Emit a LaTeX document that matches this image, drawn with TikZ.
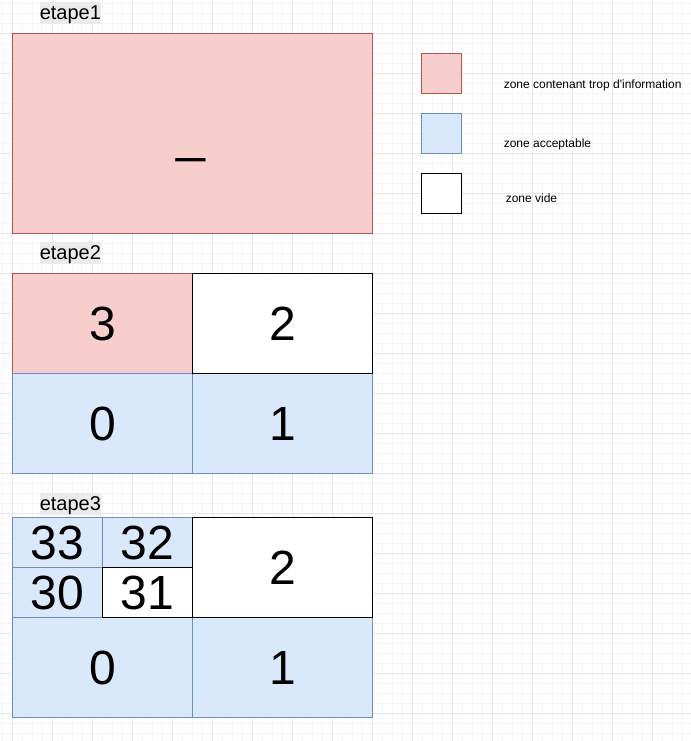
\documentclass[tikz,border=0pt]{standalone}
\usepackage{fontspec}
\setmainfont{Liberation Sans}
\usetikzlibrary{positioning}

\definecolor{redfill}{HTML}{F8CECC}
\definecolor{redline}{HTML}{B85450}
\definecolor{bluefill}{HTML}{DAE8FC}
\definecolor{blueline}{HTML}{6C8EBF}
\definecolor{labelbg}{HTML}{EBEBEB}
\definecolor{gridmajor}{HTML}{E6E6E6}
\definecolor{gridminor}{HTML}{F5F5F5}

\tikzset{
  zone/.style={draw,outer sep=0pt,inner sep=0pt,line width=0.75pt,font=\fontsize{36}{40}\selectfont,minimum width=135pt,minimum height=75pt},
  petit/.style={minimum width=67.5pt,minimum height=37.5pt},
  rouge/.style={zone,fill=redfill,draw=redline},
  bleu/.style={zone,fill=bluefill,draw=blueline},
  vide/.style={zone,fill=white,draw=black},
  carre/.style={minimum width=30pt,minimum height=30pt,anchor=north west},
  etape/.style={fill=labelbg,inner sep=0pt,anchor=north west,font=\fontsize{15}{18}\selectfont,text height=13.6pt,text depth=3.2pt},
  legende/.style={anchor=base west,inner sep=0pt,font=\fontsize{9}{11}\selectfont}
}

\begin{document}
\begin{tikzpicture}[x=0.75pt,y=-0.75pt]
\useasboundingbox (0,0) rectangle (691,741);

\begin{scope}[shift={(0.5,0.5)}]
% grille
\foreach \gx in {2,12,...,692}{
\draw[gridminor,line width=0.75pt] (\gx,-1) -- (\gx,741);
}
\foreach \gy in {3,13,...,743}{
\draw[gridminor,line width=0.75pt] (-1,\gy) -- (691,\gy);
}
\foreach \gx in {12,52,...,692}{
\draw[gridmajor,line width=0.75pt] (\gx,-1) -- (\gx,741);
}
\foreach \gy in {33,73,...,713}{
\draw[gridmajor,line width=0.75pt] (-1,\gy) -- (691,\gy);
}

% etape 1
\node[etape] (e1) at (39,1) {etape1};
\node[rouge,minimum width=270pt,minimum height=150pt,anchor=north west] (tout) at (12,33) {};
\node[anchor=base,inner sep=0pt,font=\fontsize{39}{44}\selectfont] (tiret) at (190.6,151.5) {\_};

% etape 2
\node[etape] (e2) at (39,241) {etape2};
\node[rouge,anchor=north west] (a3) at (12,273) {3};
\node[bleu,below=0pt of a3] (a0) {0};
\node[bleu,right=0pt of a0] (a1) {1};
\node[vide,right=0pt of a3] (a2) {2};

% etape 3
\node[etape] (e3) at (39,492) {etape3};
\node[bleu,petit,anchor=north west] (b33) at (12,517) {33};
\node[bleu,petit,right=0pt of b33] (b32) {32};
\node[bleu,petit,below=0pt of b33] (b30) {30};
\node[bleu,anchor=north west] (b0) at (b30.south west) {0};
\node[bleu,right=0pt of b0] (b1) {1};
\node[vide,petit,right=0pt of b30] (b31) {31};
\node[vide,anchor=north west] (b2) at (b32.north east) {2};

% legende
\node[rouge,carre] (l1) at (421,53) {};
\node[bleu,carre] (l2) at (421,113) {};
\node[vide,carre] (l3) at (421,173) {};
\node[legende] (t1) at (503,87.6) {zone contenant trop d\textquotesingle information};
\node[legende] (t2) at (503,147) {zone acceptable};
\node[legende] (t3) at (505,202.5) {zone vide};
\end{scope}

\end{tikzpicture}
\end{document}
